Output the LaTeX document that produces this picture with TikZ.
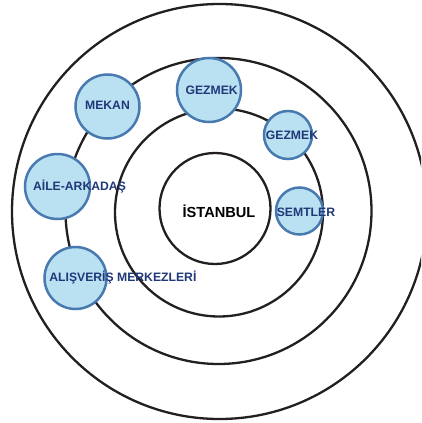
\documentclass[tikz,border=0pt]{standalone}
\usepackage{fontspec}
\setmainfont{Liberation Sans}
\definecolor{ringcol}{RGB}{35,31,32}
\definecolor{bubfill}{RGB}{185,225,242}
\definecolor{bubline}{RGB}{72,122,175}
\definecolor{bubtext}{RGB}{32,56,120}
\begin{document}
\begin{tikzpicture}[x=1pt,y=-1pt,
  ring/.style={circle, draw=ringcol, line width=2.3pt, inner sep=0pt, minimum size=#1},
  bubble/.style={circle, draw=bubline, fill=bubfill, line width=2.5pt, inner sep=0pt, minimum size=#1},
  lab/.style={anchor=base, text=bubtext, font=\fontsize{12.2}{14}\selectfont\bfseries, inner sep=0pt},
  city/.style={anchor=base, text=black, font=\fontsize{14.6}{17}\selectfont\bfseries, inner sep=0pt}]
\useasboundingbox (0,0) rectangle (421,423);
\clip (0,0) rectangle (421,423);
% rings
\node[ring=415pt] (r4) at (219.5,211.5) {};
\node[ring=306pt] (r3) at (218.5,211) {};
\node[ring=208pt] (r2) at (219,212.5) {};
\node[ring=111pt] (r1) at (215,208.5) {};
% bubbles
\node[bubble=64pt] (mekan) at (107.5,106.5) {};
\node[bubble=64pt] (gez1) at (209,90) {};
\node[bubble=48pt] (gez2) at (288,135) {};
\node[bubble=47pt] (semt) at (299.5,211) {};
\node[bubble=65pt] (aile) at (57.5,186.5) {};
\node[bubble=62pt] (alis) at (75.5,278) {};
% labels
\node[city] (ist) at (219,217) {İSTANBUL};
\node[lab] (tmekan) at (107.5,109.4) {MEKAN};
\node[lab] (tgez1) at (211.7,94.9) {GEZMEK};
\node[lab] (tgez2) at (292,139.4) {GEZMEK};
\node[lab] (tsemt) at (306,216) {SEMTLER};
\node[lab] (taile) at (79.5,190.4) {AİLE-ARKADAŞ};
\node[lab] (talis) at (122.9,281) {ALIŞVERİŞ MERKEZLERİ};
\end{tikzpicture}
\end{document}
